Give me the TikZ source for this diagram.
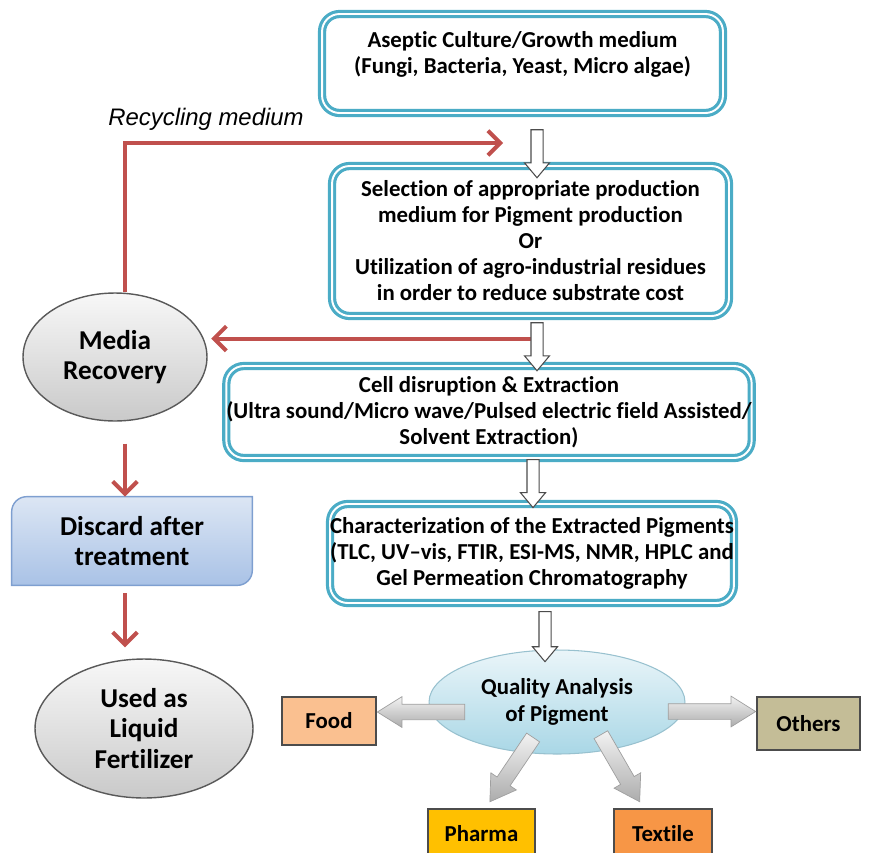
\documentclass[tikz,border=0pt]{standalone}
\usepackage{fontspec}
\setmainfont{Carlito}[Ligatures=NoCommon]
\newfontfamily\recfont{Liberation Sans}
\usetikzlibrary{arrows.meta, positioning, shapes.geometric, shapes.arrows, calc, backgrounds}

\definecolor{boxblue}{HTML}{4BACC6}
\definecolor{linered}{HTML}{C0504D}
\definecolor{foodfill}{HTML}{FAC090}
\definecolor{othersfill}{HTML}{C4BD97}
\definecolor{pharmafill}{HTML}{FFC000}
\definecolor{textilefill}{HTML}{F79646}
\definecolor{discardtop}{HTML}{DCE6F4}
\definecolor{discardbot}{HTML}{A9C2E6}
\definecolor{discardline}{HTML}{7E9FD0}
\definecolor{qualtop}{HTML}{EAF5F9}
\definecolor{qualbot}{HTML}{A9D7E6}

\tikzset{
  stepbox/.style={draw=boxblue, double=white, double distance=1.1pt, line width=1.8pt,
    rounded corners=10pt, fill=white, align=center, inner sep=0pt,
    font=\fontsize{13}{14.8}\selectfont\bfseries},
  grayell/.style={ellipse, draw=black!65, line width=0.8pt, top color=gray!6,
    bottom color=gray!42, align=center, inner sep=0pt,
    font=\fontsize{15.5}{17.5}\selectfont\bfseries},
  usebox/.style={draw=black!70, line width=0.8pt, align=center, inner sep=0pt,
    font=\fontsize{13}{15}\selectfont\bfseries},
  redarrow/.style={draw=linered, line width=2.3pt, -{Straight Barb[length=7pt,width=14pt]}},
  hollowarrow/.style={single arrow, draw=black!70, fill=white, line width=0.6pt,
    rotate=-90, minimum height=0.96cm, inner xsep=0pt, inner ysep=0.11cm,
    single arrow head extend=0.13cm, single arrow tip angle=80},
  grayarrow/.style={single arrow, draw=gray!75, top color=gray!10, bottom color=gray!65,
    inner xsep=0pt, inner ysep=0.15cm, single arrow head extend=0.15cm,
    single arrow tip angle=64, pos=1, sloped, allow upside down, anchor=tip}
}

\begin{document}
\begin{tikzpicture}[x=0.02cm, y=-0.02cm]
  \useasboundingbox (0,0) rectangle (871,852);

  % main column of process steps
  \node[stepbox, minimum width=8.02cm, minimum height=1.98cm, text depth=0.45cm] (culture) at (522.5,63.5)
    {Aseptic Culture/Growth medium\\(Fungi, Bacteria, Yeast, Micro algae)};
  \node[stepbox, minimum width=7.94cm, minimum height=3.0cm] (selection) at (530.5,241)
    {Selection of appropriate production\\medium for Pigment production\\Or\\Utilization of agro-industrial residues\\in order to reduce substrate cost};
  \node[stepbox, minimum width=10.08cm, minimum height=1.84cm] (disruption) at (489,412)
    {Cell disruption \& Extraction\\(Ultra sound/Micro wave/Pulsed electric field Assisted/\\Solvent Extraction)};
  \node[stepbox, minimum width=8.04cm, minimum height=1.98cm] (characterization) at (532,553.5)
    {Characterization of the Extracted Pigments\\(TLC, UV--vis, FTIR, ESI-MS, NMR, HPLC and\\Gel Permeation Chromatography};

  % quality analysis and its uses
  \node[ellipse, draw=qualbot!90!black, line width=0.6pt, top color=qualtop, bottom color=qualbot,
    minimum width=5.12cm, minimum height=2.08cm, align=center, inner sep=0pt,
    font=\fontsize{13}{15}\selectfont\bfseries] (quality) at (557,702) {Quality Analysis\\of Pigment};
  \node[usebox, fill=foodfill, minimum width=1.88cm, minimum height=0.96cm] (food) at (329,721) {Food};
  \node[usebox, fill=othersfill, minimum width=2.06cm, minimum height=1.06cm] (others) at (808.5,723.5) {Others};
  \node[usebox, fill=pharmafill, minimum width=2.14cm, minimum height=1.0cm] (pharma) at (481.5,834) {Pharma};
  \node[usebox, fill=textilefill, minimum width=1.96cm, minimum height=1.0cm] (textile) at (663,834) {Textile};

  % left column: media recovery
  \node[grayell, minimum width=3.68cm, minimum height=2.56cm] (media) at (115,357) {Media\\Recovery};
  \node[align=center, minimum width=4.8cm, minimum height=1.76cm, inner sep=0pt,
    font=\fontsize{15.5}{17}\selectfont\bfseries] (discard) at (132,541) {Discard after\\treatment};
  \node[grayell, minimum width=4.36cm, minimum height=2.78cm] (fertilizer) at (144,728.5) {Used as\\Liquid\\Fertilizer};
  \node[font=\recfont\itshape\fontsize{13.6}{15}\selectfont] (recycle) at (206,119) {Recycling medium};

  \begin{scope}[on background layer]
    \draw[discardline, line width=0.8pt, top color=discardtop, bottom color=discardbot]
      (discard.south west) -- ([yshift=-0.3cm]discard.north west)
      arc[start angle=180, end angle=90, radius=0.3cm] -- (discard.north east)
      -- ([yshift=0.3cm]discard.south east)
      arc[start angle=0, end angle=-90, radius=0.3cm] -- cycle;
  \end{scope}

  % red recycling connectors
  \coordinate (rc) at (125,143);
  \coordinate (rtip) at (503,143);
  \coordinate (mrec) at ($(selection.south)+(0,21)$);
  \draw[redarrow] (media.north -| rc) -- (rc) -- (rtip);
  \draw[redarrow, shorten >=2pt] ($(selection.south)+(0,21)$) -- (media.east |- mrec);
  \draw[redarrow, shorten <=0.44cm] (media.south -| rc) -- (discard.north -| rc);
  \draw[redarrow, shorten <=0.16cm, shorten >=0.22cm] (discard.south -| rc) -- (fertilizer.north -| rc);

  % hollow arrows down the main column
  \node[hollowarrow, anchor=tip] (arr1) at ($(culture.south)+(14.5,64)$) {};
  \node[hollowarrow, anchor=tip] (arr2) at ($(selection.south)+(6.5,54)$) {};
  \node[hollowarrow, anchor=tip] (arr3) at ($(characterization.north)+(1,6)$) {};
  \node[hollowarrow, anchor=tip, minimum height=1.0cm] (arr4) at ($(quality.north)+(-12,13)$) {};

  % gray arrows to the uses
  \coordinate (foodin) at ($(food.east)+(0,-9)$);
  \coordinate (othersin) at ($(others.west)+(0,-12)$);
  \path (foodin -| quality) -- (foodin) node[grayarrow, minimum height=1.75cm] (tofood) {};
  \path (othersin -| quality) -- (othersin) node[grayarrow, minimum height=1.75cm] (toothers) {};
  \path (quality) -- ($(pharma.north)+(8,-6)$) node[grayarrow, minimum height=1.55cm] (topharma) {};
  \path ($(quality)+(25,0)$) -- ($(textile.north)+(-23,-6)$) node[grayarrow, minimum height=1.55cm] (totextile) {};
\end{tikzpicture}
\end{document}
